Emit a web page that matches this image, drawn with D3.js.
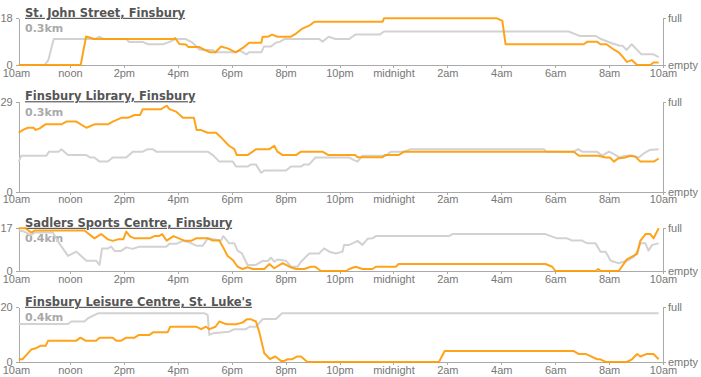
<!DOCTYPE html>
<html>
<head>
<meta charset="utf-8">
<script src="https://cdn.jsdelivr.net/npm/d3@7"></script>
<style>
  body { margin: 0; background: #fff; }
  svg text { font-family: "Liberation Sans", Arial, sans-serif; }
  .axis path, .axis line { stroke: #aaa; shape-rendering: crispEdges; }
  .axis text { fill: #777; font-size: 11px; }
  .title { font-family: "DejaVu Sans", sans-serif !important; font-weight: bold; font-size: 11.5px; fill: #555; text-decoration: underline; }
  .dist { font-family: "DejaVu Sans", sans-serif !important; font-weight: bold; font-size: 11px; fill: #aaa; }
  .line { fill: none; stroke-width: 2px; stroke-linejoin: round; }
</style>
</head>
<body>
<div id="chart"></div>
<script>
// station names, distance and capacity (the "full" value)
var stations = ["St. John Street, Finsbury", "Finsbury Library, Finsbury", "Sadlers Sports Centre, Finsbury", "Finsbury Leisure Centre, St. Luke's"];
var distances = ["0.3km", "0.3km", "0.4km", "0.4km"];
var capacities = [18, 29, 17, 20];

// bikes available: [hours after 10am, bikes]; orange = today, grey = usual
var todayJohnSt = [[0.1,0],[2.4,0],[2.6,11],[2.9,10],[5.85,10],[5.9,10.4],[6.06,8.1],[6.3,7.9],[6.4,6.9],[6.8,6.9],[7.0,5.8],[7.2,4.9],[7.4,4.9],[7.6,7.1],[7.85,6.4],[8.15,4.9],[8.47,7],[8.65,8.6],[9.1,8.6],[9.15,10.9],[9.35,10.9],[9.5,11.7],[9.7,10.9],[10.2,10.9],[10.4,12.2],[10.6,13.9],[10.9,15.3],[11.07,16.7],[13.6,16.7],[13.65,18],[17.84,18],[18.04,17],[18.16,8],[21.06,8],[21.2,9],[21.55,9],[21.68,8],[21.9,8],[22.2,5.8],[22.36,4.9],[22.5,3.2],[22.66,1.2],[22.84,1.9],[23.04,0],[23.53,0],[23.65,1],[23.84,1]];
var usualJohnSt = [[0.1,0],[1.06,0],[1.2,1.9],[1.4,10],[2.9,10],[3.1,10.9],[3.25,10],[4.09,10],[4.2,8.9],[4.7,8.9],[4.9,8],[5.45,8],[5.7,8.9],[5.9,10],[6.3,10],[6.55,8.6],[6.8,6],[7.0,5.8],[7.3,5.8],[7.4,4.9],[8.1,4.9],[8.3,5.5],[8.55,4.1],[8.65,4.9],[9.1,4.9],[9.2,7.1],[9.45,7.1],[9.64,8.6],[9.8,9],[9.95,10],[11.25,10],[11.37,9],[11.6,10.9],[11.85,10],[12.36,10],[12.6,11.8],[13.5,11.8],[13.65,12.9],[20.5,12.9],[20.9,11.2],[21.5,11.2],[21.7,10],[22.1,8.4],[22.4,7.4],[22.5,7.4],[22.65,5.8],[22.84,8],[23.2,4.1],[23.65,4.1],[23.84,3]];

var todayLibrary = [[0.1,19],[0.26,19.9],[0.44,20.6],[0.65,20.6],[0.73,19.9],[0.88,20.4],[1.09,21.7],[1.68,21.7],[1.87,22.6],[2.24,22.6],[2.61,20.6],[2.91,21.7],[3.41,21.7],[3.59,22.6],[3.9,23.8],[4.15,23.8],[4.4,24.7],[4.6,24.7],[4.7,26.6],[5.38,26.6],[5.59,27.7],[5.69,26.6],[5.94,25.8],[6.19,23.8],[6.6,23.8],[6.7,19.9],[6.85,19.9],[7.11,19],[7.42,19],[7.64,17.2],[7.9,14.8],[8.1,13.7],[8.19,11.8],[8.59,11.8],[8.78,12.9],[8.9,13.7],[9.4,13.7],[9.58,14.8],[9.7,12.9],[9.89,11.8],[10.39,11.8],[10.57,12.9],[11.37,12.9],[11.59,11.8],[12.58,11.8],[12.67,11.1],[13.6,11.1],[13.69,11.8],[14.19,11.8],[14.4,12.9],[20.69,12.9],[20.88,11.6],[21.6,11.6],[21.87,11],[22.03,11],[22.18,9.7],[22.33,10.7],[22.6,11],[22.79,11.6],[22.97,11.3],[23.16,9.7],[23.66,9.7],[23.84,10.7]];
var usualLibrary = [[0.1,9.7],[0.2,11.6],[1.13,11.6],[1.22,12.9],[1.59,12.9],[1.68,13.7],[1.93,11.8],[2.61,11.8],[2.76,11],[2.91,11],[3.1,9.7],[3.41,9.7],[3.59,11],[4.09,11],[4.33,12.9],[4.7,12.9],[4.89,13.7],[5.07,13.7],[5.2,12.9],[7.11,12.9],[7.3,11.8],[7.54,9.7],[8.04,9.7],[8.16,8.1],[8.59,8.1],[8.72,8.8],[8.9,8.8],[9.09,6.1],[9.21,6.8],[10.01,6.8],[10.2,8.1],[10.57,8.1],[10.69,8.8],[10.88,8.8],[11.1,11],[12.36,11],[12.54,10.2],[12.67,9.7],[12.85,11.6],[13.72,11.6],[13.9,12.9],[14.4,12.9],[14.64,13.7],[19.58,13.7],[19.67,12.9],[20.69,12.9],[20.85,13.7],[21.0,12.9],[21.55,12.9],[21.75,11.6],[21.9,12.4],[22.0,12.9],[22.2,12],[22.38,11],[22.6,11.6],[22.85,11.6],[23.1,11],[23.3,12.4],[23.5,13.4],[23.84,13.7]];

var todaySadlers = [[0.1,17],[0.35,17],[0.57,15.3],[0.69,16.1],[2.54,16.1],[2.91,13],[3.16,14.7],[3.41,12.6],[3.59,12],[3.78,12.6],[3.98,12.6],[4.09,15.7],[4.24,13.7],[4.4,13],[4.95,13],[5.14,13.9],[5.3,13.9],[5.42,14.7],[5.59,12.1],[5.84,13.9],[6.13,12.6],[6.28,12],[6.5,12],[6.68,13],[7.11,13],[7.3,12.1],[7.54,12.1],[7.67,9.7],[7.85,6],[8.04,4.4],[8.22,1.7],[8.41,0.8],[8.59,1.5],[8.78,0.8],[9.21,0.8],[9.4,2.8],[9.58,1.1],[9.89,3.1],[10.14,1.7],[10.39,0.8],[10.69,0.8],[10.94,1.7],[11.1,1.7],[11.31,0],[12.24,0],[12.36,0.8],[12.6,1.7],[12.85,0.8],[13.22,0.8],[13.35,1.7],[14.09,1.7],[14.19,2.8],[19.64,2.8],[19.89,1.7],[20.01,0],[21.5,0],[21.6,0.8],[21.68,0],[22.36,0],[22.66,4.6],[23.04,6.8],[23.16,12],[23.35,14.7],[23.53,14.7],[23.65,13],[23.84,17]];
var usualSadlers = [[0.1,16.1],[0.3,15.7],[0.57,14.3],[0.69,15.3],[1.37,15.3],[1.56,11.7],[1.93,6],[2.24,7.7],[2.61,4.1],[2.97,4.1],[3.1,2.4],[3.19,9],[3.41,9],[3.53,9.7],[3.66,8],[3.9,8],[4.09,9.4],[4.33,8.8],[4.58,9.7],[5.57,9.7],[5.69,10.8],[5.94,10.8],[6.19,12],[6.45,11.3],[6.68,10.1],[6.93,10.1],[7.11,13],[7.6,12.1],[7.69,13.9],[7.91,11],[8.1,11],[8.22,8.1],[8.38,7],[8.59,2.4],[8.9,2.4],[9.15,4],[9.34,4],[9.46,5.3],[9.58,3.7],[9.7,4.6],[10.01,4.1],[10.2,1.7],[10.45,1.7],[10.57,3.7],[10.88,7],[11.25,7],[11.43,9],[11.62,7.7],[11.87,7],[12.11,7.7],[12.17,10.4],[12.36,10.4],[12.48,11],[12.67,12],[12.85,10.4],[13.04,12.8],[13.22,13],[13.35,13.9],[16.06,13.9],[16.19,14.7],[19.64,14.7],[20.07,13],[20.44,13],[20.63,12.1],[21.0,12.1],[21.19,11],[21.5,11],[21.68,7.7],[21.87,7.7],[22.06,4.1],[22.36,3.1],[22.73,4.4],[22.92,5.7],[23.04,7.7],[23.16,11],[23.35,11],[23.46,8.1],[23.6,10.4],[23.84,11]];

var todayLeisure = [[0.1,1],[0.24,1],[0.39,2.6],[0.57,4.6],[0.73,5],[0.9,5.9],[1.1,5.9],[1.19,7.8],[2.24,7.8],[2.39,8.9],[2.58,7.8],[2.97,7.8],[3.1,8.9],[3.59,8.9],[3.72,7.8],[3.9,7.8],[4.09,8.9],[4.4,8.9],[4.56,9.9],[4.95,9.9],[5.1,10.9],[5.63,10.9],[5.72,12.9],[6.68,12.9],[6.87,12],[7.05,12.9],[7.17,12],[7.4,12.9],[7.54,14.8],[7.72,14.1],[7.85,13.8],[8.16,13.8],[8.4,14.4],[8.56,15.6],[8.72,15.6],[8.9,14.8],[9.02,11.1],[9.21,3.2],[9.42,1.1],[9.62,2],[9.83,0.4],[9.95,0.4],[10.07,1],[10.23,1],[10.42,2],[10.57,2],[10.81,0],[15.69,0],[15.9,4],[20.69,4],[20.88,2.9],[21.15,2.9],[21.56,1],[21.68,1],[21.87,0],[22.66,0],[22.85,1],[23.04,2.9],[23.16,2],[23.38,2.9],[23.65,2.9],[23.84,1]];
var usualLeisure = [[0.1,13.9],[1.93,13.9],[2.05,14.8],[2.54,14.8],[2.67,16],[3.04,17.8],[6.99,17.8],[7.11,17.2],[7.17,9.9],[7.3,10.5],[7.91,11.1],[8.1,12],[8.53,12],[8.66,12.9],[8.9,12.9],[9.15,15.7],[9.64,15.7],[9.87,17.8],[23.84,17.8]];

var todaySeries = [todayJohnSt, todayLibrary, todaySadlers, todayLeisure];
var usualSeries = [usualJohnSt, usualLibrary, usualSadlers, usualLeisure];

// x ticks every 2 hours from 10am to 10am next day
var tickHours = d3.range(0, 25, 2);

// layout of each small multiple (plot top and plot height)
var panelTop = [18.3, 101.7, 228.3, 307.3];
var panelHeight = [46.7, 90, 42.7, 54.7];

var width = 701, height = 377;
var base = new Date(2013, 0, 1, 10, 0);
function toDate(h) { return new Date(base.getTime() + h * 3600e3); }

var x = d3.scaleTime()
  .domain([toDate(0), toDate(24)])
  .range([16, 663]);

var hourFmt = d3.timeFormat("%-I%p");
function formatTick(d) {
  var hr = d.getHours();
  if (hr === 12) return "noon";
  if (hr === 0) return "midnight";
  return hourFmt(d).toLowerCase();
}

var svg = d3.select("#chart")
  .append("svg")
  .attr("width", width)
  .attr("height", height);

stations.forEach(function (name, i) {
  var h = panelHeight[i];
  var g = svg.append("g")
    .attr("transform", "translate(0," + panelTop[i] + ")");

  var y = d3.scaleLinear()
    .domain([0, capacities[i]])
    .range([h, 0]);

  var today = todaySeries[i], usual = usualSeries[i];
  var xStart = x(toDate(today[0][0]));
  var xEnd = x.range()[1];

  // x axis
  var xAxis = d3.axisBottom(x)
    .tickValues(tickHours.map(toDate))
    .tickFormat(formatTick)
    .tickSize(3)
    .tickPadding(1)
    .tickSizeOuter(0);
  var xg = g.append("g")
    .attr("class", "x axis")
    .attr("transform", "translate(0," + h + ")")
    .call(xAxis);
  xg.select(".domain").attr("d", "M" + xStart + ",0.5H" + xEnd);
  xg.selectAll(".tick line").filter(function (d) { return x(d) < xStart; }).remove();

  // left axis: 0 and capacity
  g.append("g")
    .attr("class", "y axis")
    .attr("transform", "translate(" + xStart + ",0)")
    .call(d3.axisLeft(y).tickValues([0, capacities[i]]).tickSize(3).tickPadding(3).tickSizeOuter(0));

  // right axis: empty / full
  g.append("g")
    .attr("class", "y axis right")
    .attr("transform", "translate(" + xEnd + ",0)")
    .call(d3.axisRight(y).tickValues([0, capacities[i]])
      .tickFormat(function (d) { return d ? "full" : "empty"; })
      .tickSize(3).tickPadding(2).tickSizeOuter(0));

  g.append("text")
    .attr("class", "title")
    .attr("x", 25)
    .attr("y", -1.5)
    .text(name);

  g.append("text")
    .attr("class", "dist")
    .attr("x", 25)
    .attr("y", 14.2)
    .text(distances[i]);

  var line = d3.line()
    .x(function (d) { return x(toDate(d[0])); })
    .y(function (d) { return y(d[1]); });

  g.append("path")
    .datum(usual)
    .attr("class", "line")
    .attr("stroke", "#d2d2d2")
    .attr("d", line);

  g.append("path")
    .datum(today)
    .attr("class", "line")
    .attr("stroke", "#ff9900")
    .attr("stroke-opacity", 0.9)
    .attr("d", line);
});
</script>
</body>
</html>
